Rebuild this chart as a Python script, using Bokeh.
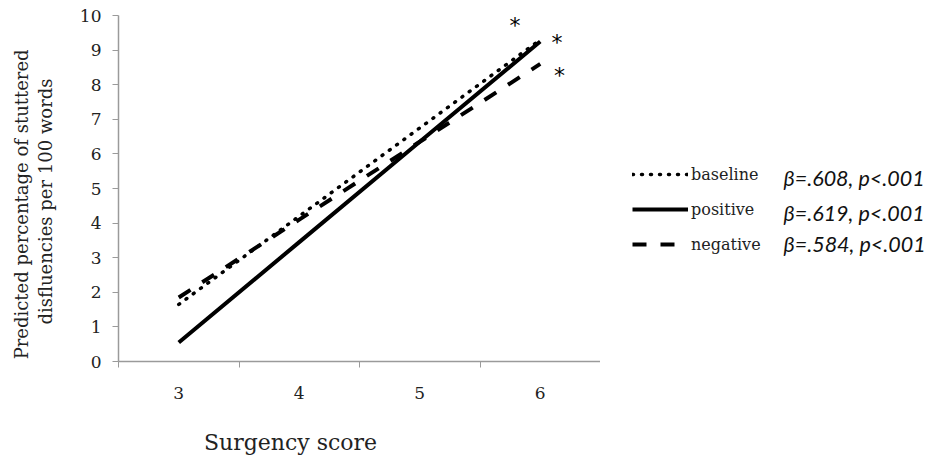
import math
from bokeh.plotting import figure
from bokeh.layouts import row, column
from bokeh.models import FixedTicker, Label, Legend, LegendItem, Range1d
from bokeh.core.properties import value
from bokeh.embed import file_html
from bokeh.resources import INLINE

surgency = [3, 4, 5, 6]
baseline = [1.65, 4.2, 6.75, 9.3]
positive = [0.55, 3.45, 6.35, 9.25]
negative = [1.85, 4.1, 6.35, 8.6]
y_ticks = [0, 1, 2, 3, 4, 5, 6, 7, 8, 9, 10]
star_x = [5.79, 6.14, 6.16]
star_y = [9.72, 9.22, 8.27]
series_names = ["baseline", "positive", "negative"]
betas = ["β=.608, p<.001", "β=.619, p<.001", "β=.584, p<.001"]
y_title = ["Predicted percentage of  stuttered", "disfluencies per 100 words"]
x_title = "Surgency score"

H = 455
SERIF = "DejaVu Serif"
AX = "#9a9a9a"
TXT = "#222222"
STYLE = dict(base=dict(line_color="black", line_width=3.5, line_dash="1 8", line_cap="round"),
             pos=dict(line_color="black", line_width=4),
             neg=dict(line_color="black", line_width=4, line_dash="14 14"))


def blank(w, h):
    f = figure(width=w, height=h, output_backend="svg", toolbar_location=None,
               title=None, min_border=0, x_range=Range1d(0, 1), y_range=Range1d(0, 1))
    f.axis.visible = False
    f.grid.visible = False
    f.outline_line_color = None
    return f


# main chart: page x 60..600, y 0..412
p = figure(width=540, height=412, output_backend="svg", toolbar_location=None, title=None,
           x_range=Range1d(2.5, 6.5), y_range=Range1d(0, 10),
           min_border_left=58, min_border_right=0, min_border_top=15,
           min_border_bottom=51)
p.outline_line_color = None
p.grid.visible = False

p.xaxis.ticker = FixedTicker(ticks=surgency, minor_ticks=[2.5, 3.5, 4.5, 5.5, 6.5])
p.xaxis.major_tick_line_color = None
p.xaxis.major_tick_out = 6
p.xaxis.minor_tick_line_color = AX
p.xaxis.minor_tick_out = 6
p.xaxis.minor_tick_in = 0
p.xaxis.major_label_standoff = 19
p.yaxis.ticker = FixedTicker(ticks=y_ticks)
p.yaxis.minor_tick_line_color = None
p.yaxis.major_tick_out = 6
p.yaxis.major_tick_in = 0
p.yaxis.major_tick_line_color = AX
p.yaxis.major_label_standoff = 11
for ax in (p.xaxis, p.yaxis):
    ax.axis_line_color = AX
    ax.axis_line_width = 1.5
    ax.major_label_text_font = SERIF
    ax.major_label_text_font_size = "17px"
    ax.major_label_text_color = TXT

p.line(surgency, baseline, **STYLE["base"])
p.line(surgency, positive, **STYLE["pos"])
p.line(surgency, negative, **STYLE["neg"])

p.text(star_x, star_y, text=["*"] * len(star_x), text_font=value("DejaVu Sans"),
       text_font_size="22px", text_align="center", text_baseline="middle",
       text_color="black")

# left strip: y axis title (page x 0..60)
left = blank(60, H)
for txt, px in zip(y_title, [21, 45]):
    left.add_layout(Label(x=px, y=H - 201, x_units="screen", y_units="screen", text=txt,
                          angle=math.pi / 2, text_font=SERIF, text_font_size="18px",
                          text_align="center", text_baseline="middle", text_color=TXT))

# bottom strip: x axis title; its frame is aligned with the chart frame (x=118)
bottom = blank(540, H - 412)
bottom.add_layout(Label(x=290 - 118, y=13, x_units="screen", y_units="screen",
                        text=x_title, text_font=SERIF, text_font_size="22px",
                        text_align="center", text_baseline="alphabetic", text_color=TXT))

# right side: legend and beta annotations (page x 600..925)
side = blank(325, H)
# legend proxies: same series, drawn outside the side panel's visible range
proxies = [side.line(surgency, ys, **STYLE[k])
           for k, ys in zip(("base", "pos", "neg"), (baseline, positive, negative))]
legend = Legend(items=[LegendItem(label=n, renderers=[r]) for n, r in zip(series_names, proxies)],
                location=(32, H - 254), orientation="vertical",
                glyph_width=56, glyph_height=20, label_height=20,
                label_standoff=3, spacing=15, padding=0, margin=0,
                border_line_color=None, background_fill_alpha=0,
                label_text_font=SERIF, label_text_font_size="16px",
                label_text_color=TXT)
side.add_layout(legend)
for txt, py in zip(betas, [177, 212, 243]):
    side.add_layout(Label(x=783 - 600, y=H - py, x_units="screen", y_units="screen", text=txt,
                          text_font="Lato", text_font_style="italic",
                          text_font_size="21.5px", text_baseline="middle",
                          text_color="#111111"))

layout = row(left, column(p, bottom), side)
open("out.html", "w").write(file_html(layout, INLINE))
